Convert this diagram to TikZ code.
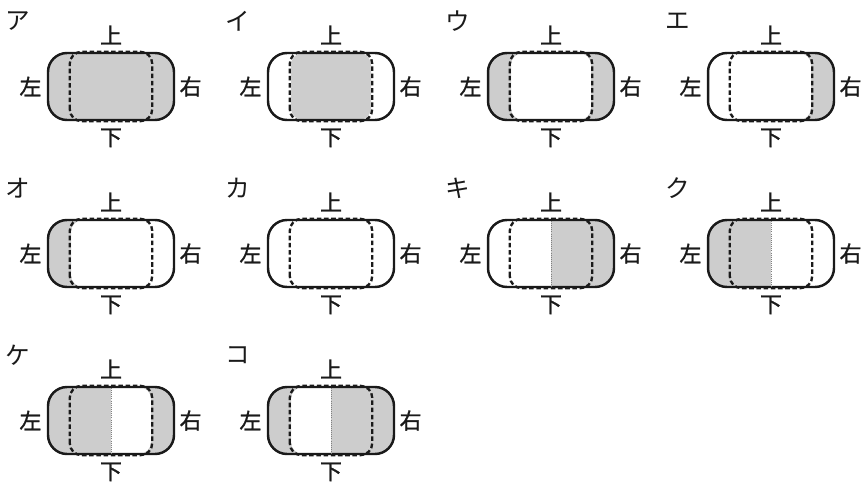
\documentclass[tikz,border=0pt]{standalone}
\usepackage{fontspec}
\usepackage{tikz}
\usetikzlibrary{positioning,calc}
\newfontfamily\jpfont[FakeBold=1.2]{Noto Sans CJK JP}
\newfontfamily\kanafont{Noto Sans CJK JP}
\definecolor{tone}{HTML}{CDCDCD}
\definecolor{ink}{HTML}{1A1A1A}

\begin{document}
\begin{tikzpicture}[
    x=0.02cm,y=0.02cm,
    carbody/.style={rectangle,draw=ink,line width=1.4pt,rounded corners=10.8pt,
                    minimum width=2.52cm,minimum height=1.34cm,inner sep=0pt},
    seatline/.style={draw=ink,line width=1.35pt,dash pattern=on 2.6pt off 1.5pt,
                     rounded corners=6.8pt},
    tonefill/.style={fill=tone},
    divline/.style={draw=gray,line width=0.5pt,dash pattern=on 0.5pt off 0.7pt},
    lab/.style={inner sep=0pt,text=ink,font={\fontsize{12.5pt}{13pt}\jpfont}},
    kanalab/.style={inner sep=0pt,text=ink,font={\fontsize{14pt}{14pt}\kanafont}}
  ]
  \useasboundingbox (0,0) rectangle (864,481);

  % name / centre / kana / left ring / left half / right half / right ring / divider
  \foreach \nm/\cx/\cy/\kana/\lc/\li/\ri/\rc/\dv in {
      a/111/394.5/ア/1/1/1/1/0,
      b/331/394.5/イ/0/1/1/0/0,
      c/551/394.5/ウ/1/0/0/1/0,
      d/771/394.5/エ/0/0/0/1/0,
      e/111/227.5/オ/1/0/0/0/0,
      f/331/227.5/カ/0/0/0/0/0,
      g/551/227.5/キ/0/0/1/1/1,
      h/771/227.5/ク/1/1/0/0/1,
      i/111/60.5/ケ/1/1/0/1/1,
      j/331/60.5/コ/1/0/1/1/1}
  {
    \begin{scope}[shift={(\cx,\cy)}]
      \ifnum\lc=1
        \begin{scope}
          \clip (-70,-40) rectangle (0,40);
          \fill[tonefill,even odd rule,rounded corners=10.8pt] (-63,-33.5) rectangle (63,33.5)
            [rounded corners=6.8pt] (-40,-33.5) rectangle (40,33.5);
        \end{scope}
      \fi
      \ifnum\rc=1
        \begin{scope}
          \clip (0,-40) rectangle (70,40);
          \fill[tonefill,even odd rule,rounded corners=10.8pt] (-63,-33.5) rectangle (63,33.5)
            [rounded corners=6.8pt] (-40,-33.5) rectangle (40,33.5);
        \end{scope}
      \fi
      \ifnum\li=1
        \begin{scope}
          \clip (-70,-40) rectangle (0,40);
          \fill[tonefill,rounded corners=6.8pt] (-40,-33.5) rectangle (40,33.5);
        \end{scope}
      \fi
      \ifnum\ri=1
        \begin{scope}
          \clip (0,-40) rectangle (70,40);
          \fill[tonefill,rounded corners=6.8pt] (-40,-33.5) rectangle (40,33.5);
        \end{scope}
      \fi
    \end{scope}

    \node[carbody] (\nm) at (\cx,\cy) {};
    \ifnum\dv=1
      \draw[divline] (\nm.north) -- (\nm.south);
    \fi
    \draw[seatline] ($(\nm.south west)+(23,0)$) rectangle ($(\nm.north east)+(-23,0)$);

    \node[lab,above=0.14cm of \nm] (\nm-up) {上};
    \node[lab,below=0.14cm of \nm] (\nm-dn) {下};
    \node[lab,left=0.1cm of \nm] (\nm-lt) {左};
    \node[lab,right=0.08cm of \nm] (\nm-rt) {右};
    \node[kanalab] (\nm-k) at ($(\nm.center)+(-93,65)$) {\kana};
  }
\end{tikzpicture}
\end{document}
